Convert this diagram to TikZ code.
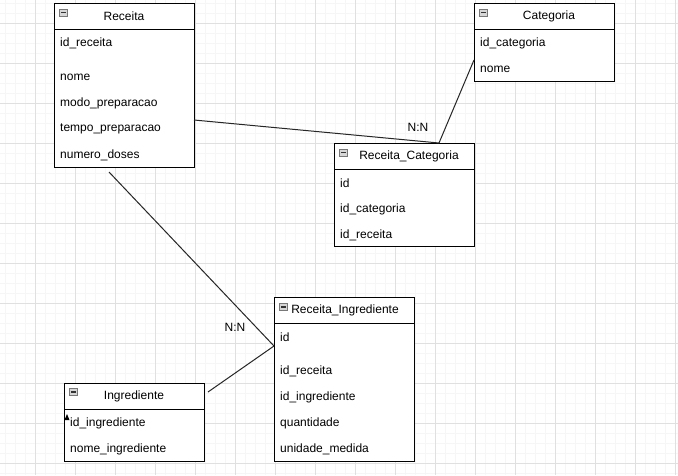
\documentclass[tikz,border=0pt]{standalone}
\usepackage{fontspec}
\setmainfont{Liberation Sans}
\usetikzlibrary{positioning}

\definecolor{gridmajor}{RGB}{224,224,224}
\definecolor{gridminor}{RGB}{246,246,246}
\definecolor{iconfill}{RGB}{214,214,214}
\definecolor{iconline}{RGB}{120,120,120}

\tikzset{
	entity/.style={draw, line width=1pt, fill=white, anchor=north west,
		minimum width=140pt, inner sep=0pt},
	attr/.style={anchor=west, inner sep=0pt, font=\fontsize{12}{14}\selectfont},
	title/.style={inner sep=0pt, font=\fontsize{12}{14}\selectfont},
	card/.style={inner sep=0pt, font=\fontsize{12}{14}\selectfont},
	icon/.style={draw=iconline, fill=iconfill, minimum width=8pt, minimum height=7pt, inner sep=0pt},
	link/.style={line width=1pt, black!85}
}

\begin{document}
\begin{tikzpicture}[x=1pt, y=-1pt]

	\useasboundingbox (0,0) rectangle (678,475);
	\fill[white] (0,0) rectangle (678,475);

	% grid
	\foreach \gx in {5,15,...,675} \draw[gridminor, line width=.8pt] (\gx,0) -- (\gx,475);
	\foreach \gy in {3,13,...,473} \draw[gridminor, line width=.8pt] (0,\gy) -- (678,\gy);
	\foreach \gx in {35,75,...,675} \draw[gridmajor, line width=1pt] (\gx,0) -- (\gx,475);
	\foreach \gy in {23,63,...,463} \draw[gridmajor, line width=1pt] (0,\gy) -- (678,\gy);

	% Receita
	\node[entity, minimum height=164pt] (receita) at (54,3) {};
	\draw[line width=1pt] (54,29) -- (194,29);
	\node[icon] (receitaIcon) at (63.5,12.5) {};
	\draw[line width=1.2pt, black!80] (61,12.5) -- (66,12.5);
	\node[title] (receitaTitle) at (124,16) {Receita};
	\node[attr] (receitaId) at (60,43) {id\_receita};
	\node[attr] (receitaNome) at (60,77) {nome};
	\node[attr] (receitaModo) at (60,103) {modo\_preparacao};
	\node[attr] (receitaTempo) at (60,129) {tempo\_preparacao};
	\node[attr] (receitaDoses) at (60,155) {numero\_doses};

	% Categoria
	\node[entity, minimum height=78pt] (categoria) at (474,3) {};
	\draw[line width=1pt] (474,29) -- (614,29);
	\node[icon] (categoriaIcon) at (483.5,12.5) {};
	\draw[line width=1.2pt, black!80] (481,12.5) -- (486,12.5);
	\node[title] (categoriaTitle) at (549,16) {Categoria};
	\node[attr] (categoriaId) at (480,43) {id\_categoria};
	\node[attr] (categoriaNome) at (480,69) {nome};

	% Receita_Categoria
	\node[entity, minimum height=103pt] (recCat) at (334,143) {};
	\draw[line width=1pt] (334,169) -- (474,169);
	\node[icon] (recCatIcon) at (343.5,152.5) {};
	\draw[line width=1.2pt, black!80] (341,152.5) -- (346,152.5);
	\node[title] (recCatTitle) at (409,156) {Receita\_Categoria};
	\node[attr] (recCatId) at (340,183) {id};
	\node[attr] (recCatCategoria) at (340,209) {id\_categoria};
	\node[attr] (recCatReceita) at (340,235) {id\_receita};

	% Receita_Ingrediente
	\node[entity, minimum height=164pt] (recIng) at (274,297) {};
	\draw[line width=1pt] (274,323) -- (414,323);
	\node[icon] (recIngIcon) at (283.5,307) {};
	\draw[line width=1.2pt, black!80] (281,307) -- (286,307);
	\node[title] (recIngTitle) at (345,310) {Receita\_Ingrediente};
	\node[attr] (recIngId) at (280,337) {id};
	\node[attr] (recIngReceita) at (280,371) {id\_receita};
	\node[attr] (recIngIngrediente) at (280,397) {id\_ingrediente};
	\node[attr] (recIngQtd) at (280,423) {quantidade};
	\node[attr] (recIngUnidade) at (280,449) {unidade\_medida};

	% Ingrediente
	\node[entity, minimum height=78pt] (ingrediente) at (64,383) {};
	\draw[line width=1pt] (64,409) -- (204,409);
	\node[icon] (ingredienteIcon) at (73.5,392) {};
	\draw[line width=1.2pt, black!80] (71,392) -- (76,392);
	\node[title] (ingredienteTitle) at (134,396) {Ingrediente};
	\node[attr] (ingredienteId) at (70,423) {id\_ingrediente};
	\node[attr] (ingredienteNome) at (70,449) {nome\_ingrediente};
	\fill (64.5,420) -- (67,414) -- (69.5,420) -- cycle;

	% connectors
	\coordinate (rcOut) at (194,120);
	\coordinate (rcIn) at (439,143);
	\coordinate (catOut) at (474,60);
	\coordinate (riOut) at (109,172);
	\coordinate (riIn) at (274,346);
	\coordinate (ingOut) at (208,392);

	\draw[link] (rcOut) -- (rcIn);
	\draw[link] (catOut) -- (rcIn);
	\draw[link] (riOut) -- (riIn);
	\draw[link] (riIn) -- (ingOut);

	\node[card] (cardCat) at (418,127) {N:N};
	\node[card] (cardIng) at (235,327) {N:N};

\end{tikzpicture}
\end{document}
